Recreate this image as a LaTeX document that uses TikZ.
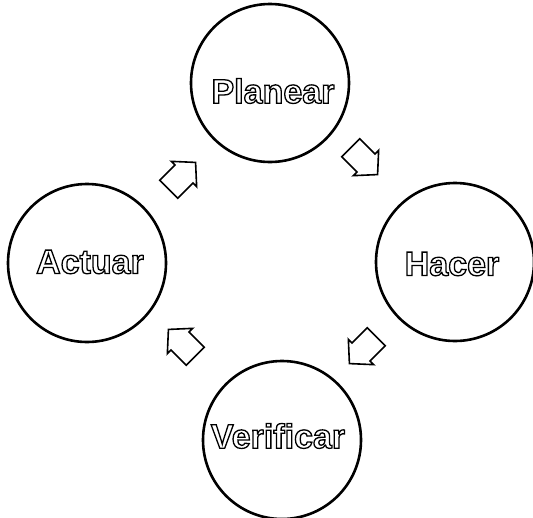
\documentclass[tikz,border=0pt]{standalone}
\usepackage{fontspec}
\setmainfont{Liberation Sans}
\usetikzlibrary{shapes.arrows}
\newcommand{\outl}[1]{\special{pdf:literal direct 2 Tr 1.3 w 0 0 0 RG}#1\special{pdf:literal direct 0 Tr}}
\tikzset{
  ball/.style={circle, draw=black, line width=2.6pt, fill=white, minimum size=158pt, inner sep=0pt},
  lbl/.style={font=\bfseries\fontsize{34}{36}\selectfont, text=white},
  cyc/.style={single arrow, draw=black, line width=1.6pt, fill=white, minimum height=38pt, inner xsep=6pt, inner ysep=12pt, single arrow head extend=5pt, single arrow tip angle=95}
}
\begin{document}
\begin{tikzpicture}[x=1pt,y=-1pt]
\useasboundingbox (0,0) rectangle (533,517);
\node[ball] (plan) at (270,83) {};
\node[ball] (hacer) at (455,262) {};
\node[ball] (verif) at (282,440) {};
\node[ball] (actuar) at (87,263) {};
\node[lbl] (tplan) at (273,91) {\outl{Planear}};
\node[lbl] (thacer) at (452,264) {\outl{Hacer}};
\node[lbl] (tverif) at (278,436) {\outl{Verificar}};
\node[lbl] (tactuar) at (90,262) {\outl{Actuar}};
\node[cyc, rotate=45] (a1) at (178,180) {};
\node[cyc, rotate=-45] (a2) at (360,157) {};
\node[cyc, rotate=-135] (a3) at (367,346) {};
\node[cyc, rotate=135] (a4) at (186,347) {};
\end{tikzpicture}
\end{document}
